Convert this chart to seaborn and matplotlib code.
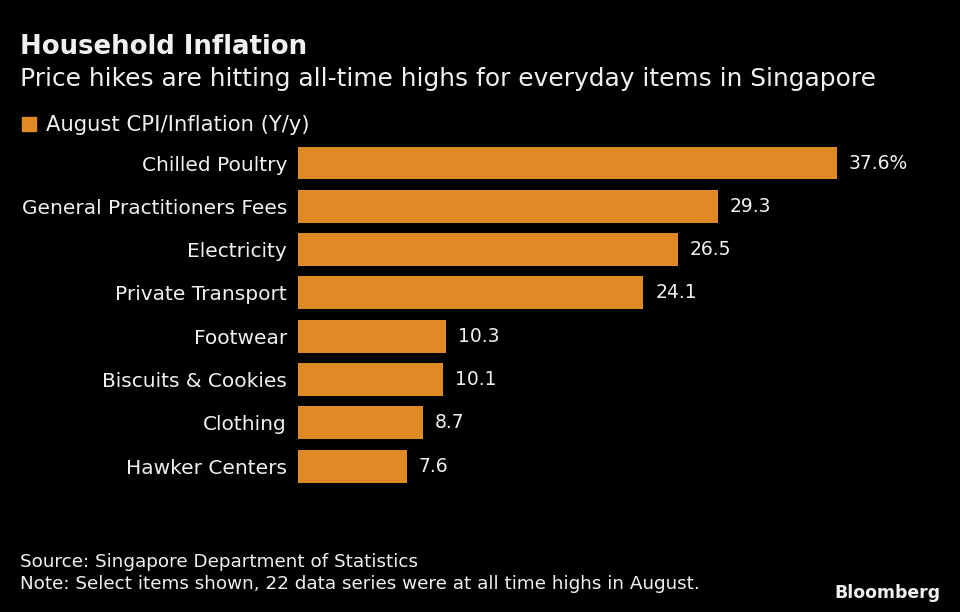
import matplotlib
matplotlib.use("Agg")
import matplotlib.pyplot as plt
import seaborn as sns
import pandas as pd

categories = ["Chilled Poultry", "General Practitioners Fees", "Electricity",
              "Private Transport", "Footwear", "Biscuits & Cookies",
              "Clothing", "Hawker Centers"]
values = [37.6, 29.3, 26.5, 24.1, 10.3, 10.1, 8.7, 7.6]
value_labels = ["37.6%", "29.3", "26.5", "24.1", "10.3", "10.1", "8.7", "7.6"]
series_name = "August CPI/Inflation (Y/y)"

BAR = "#E08A26"
BG = "#000000"
FG = "#F0F0F0"

sns.set_theme(style="white")
plt.rcParams['font.family'] = ['DejaVu Sans']

df = pd.DataFrame({"category": categories, "value": values})

fig = plt.figure(figsize=(9.6, 6.12), dpi=100, facecolor=BG)
ax = fig.add_axes([298/960, 1-487.7/612, (900-298)/960, (487.7-141.4)/612])
ax.set_facecolor(BG)

sns.barplot(data=df, x="value", y="category", orient="h", color=BAR,
            saturation=1, width=0.76, linewidth=0, edgecolor="none", ax=ax)

ax.set_xlim(0, 42)
ax.set_ylim(7.5, -0.5)
ax.set_xlabel("")
ax.set_ylabel("")
ax.set_xticks([])
for s in ax.spines.values():
    s.set_visible(False)
ax.tick_params(axis="y", length=0, pad=8, labelsize=14.5, labelcolor=FG)

for i, (v, lab) in enumerate(zip(values, value_labels)):
    ax.annotate(lab, xy=(v, i), xytext=(8.6, 0), textcoords="offset points",
                va="center", ha="left", color=FG, fontsize=13.5)

fig.text(20/960, 1-47/612, "Household Inflation", color=FG, fontsize=18.7,
         fontweight="bold", va="center", ha="left")
fig.text(20/960, 1-79/612, "Price hikes are hitting all-time highs for everyday items in Singapore",
         color=FG, fontsize=17.9, va="center", ha="left")

fig.patches.append(plt.Rectangle((22/960, 1-131/612), 14/960, 14/612,
                                 transform=fig.transFigure, color=BAR))
fig.text(46/960, 1-125/612, series_name, color=FG, fontsize=15.2,
         va="center", ha="left")

fig.text(20/960, 1-562/612, "Source: Singapore Department of Statistics",
         color=FG, fontsize=13.2, va="center", ha="left")
fig.text(20/960, 1-584/612,
         "Note: Select items shown, 22 data series were at all time highs in August.",
         color=FG, fontsize=13.2, va="center", ha="left")
fig.text(940/960, 1-593/612, "Bloomberg", color=FG, fontsize=12.4,
         fontweight="bold", va="center", ha="right",
         family=["Liberation Sans Narrow", "DejaVu Sans"])

fig.savefig("out.png", dpi=100, facecolor=BG)
